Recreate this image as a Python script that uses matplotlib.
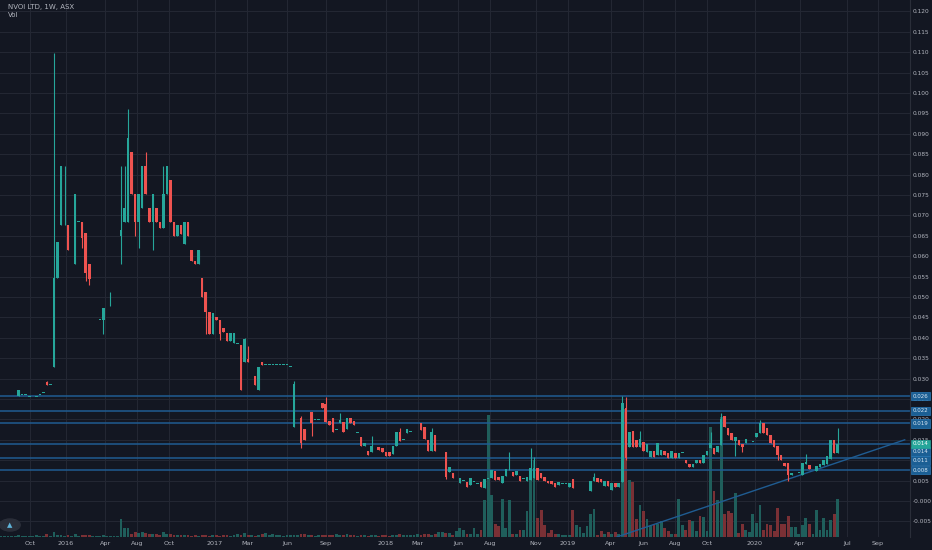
import matplotlib
matplotlib.use("Agg")
import matplotlib.pyplot as plt
import numpy as np

title = "NVOI LTD, 1W, ASX"
opens = [27.2,27.2,27.2,27.2,27.2,25.8,26.0,26.0,25.5,24.5,25.5,26.0,26.5,29.2,28.5,32.8,54.7,67.6,82.1,67.6,
 61.0,58.1,68.4,68.4,65.7,58.1,51.2,51.2,44.4,44.4,47.8,47.8,47.8,47.8,65.0,68.4,68.4,85.5,75.2,68.4,
 71.8,82.1,71.8,68.4,71.8,68.4,67.0,75.2,78.7,68.4,65.0,67.6,63.0,68.4,61.5,58.8,58.1,54.7,51.2,46.3,
 41.0,45.1,44.4,42.4,41.2,39.2,38.7,38.5,38.2,34.1,34.8,30.6,30.6,27.2,34.0,33.4,33.4,33.4,33.4,33.4,
 33.4,33.4,32.9,18.1,20.3,20.3,17.6,20.8,21.8,19.9,19.9,24.0,23.8,19.6,20.3,17.5,19.1,19.4,17.6,20.3,
 19.6,16.7,15.7,13.5,12.3,12.0,16.9,13.2,13.0,12.0,12.0,11.5,13.5,16.9,15.0,16.7,17.0,19.0,19.0,19.1,
 18.1,15.0,12.3,16.2,11.5,11.5,12.0,7.1,6.8,5.1,4.4,5.0,4.7,3.9,4.7,4.2,4.7,3.2,5.5,5.6,
 7.4,5.9,4.4,6.1,7.6,7.1,6.3,6.1,5.4,4.9,5.1,5.6,8.1,6.8,5.9,4.9,4.9,4.4,3.9,4.2,
 4.2,3.4,5.4,3.4,2.7,2.7,2.7,2.5,4.9,5.6,5.4,3.7,4.9,2.7,4.4,3.4,4.6,22.8,13.2,17.2,
 15.0,13.2,14.5,12.0,10.8,12.3,11.3,11.3,12.3,11.8,10.5,11.8,10.5,11.8,10.0,9.1,8.3,9.3,10.0,9.3,
 11.3,13.0,13.0,12.0,13.7,20.8,17.9,16.7,14.7,15.0,14.0,14.2,14.7,14.5,15.7,16.7,19.1,17.9,16.2,15.0,
 13.4,11.3,9.3,9.3,6.4,6.6,6.9,6.4,9.0,8.8,7.6,7.4,8.3,8.8,9.1,10.3,15.0,11.8]
closes = [27.2,27.2,27.2,27.2,27.2,27.2,26.0,26.0,25.5,24.5,25.5,26.0,26.5,28.5,28.5,54.7,63.5,82.1,82.1,61.5,
 61.0,75.2,68.4,64.5,55.9,54.4,51.2,51.2,44.4,47.3,47.8,47.8,47.8,47.8,66.4,71.8,89.0,75.2,68.4,75.2,
 82.1,75.2,68.4,75.2,68.4,67.0,75.2,82.1,68.4,65.0,67.6,65.5,68.4,65.0,58.8,58.1,61.5,50.0,46.3,41.0,
 46.0,44.4,41.0,41.5,39.2,41.2,41.2,38.5,27.2,39.7,34.0,30.6,28.4,32.8,33.4,33.4,33.4,33.4,33.4,33.4,
 33.4,33.4,32.9,28.7,20.3,14.2,15.0,20.8,19.1,19.9,19.9,22.8,19.4,18.6,16.9,17.5,19.9,16.9,20.3,19.1,
 18.6,16.7,13.5,14.2,11.3,13.5,16.9,12.5,12.0,11.0,11.0,13.5,16.9,14.7,15.0,17.6,17.0,19.0,19.0,17.4,
 15.2,12.3,16.9,12.3,11.5,11.5,5.9,8.3,5.6,5.1,5.6,5.0,3.4,5.6,4.7,4.2,3.4,5.4,5.5,7.6,
 5.1,5.1,6.1,7.8,7.6,6.1,7.3,4.9,5.4,5.9,8.1,8.1,5.1,5.6,4.9,4.4,4.2,3.4,4.7,4.2,
 4.2,4.4,3.2,3.4,2.7,2.7,2.7,4.9,5.9,4.7,4.7,4.9,3.7,4.4,3.4,4.4,24.0,10.5,16.9,13.2,
 13.2,15.2,12.3,14.0,12.3,10.8,14.2,12.5,11.3,10.5,12.3,10.5,11.8,11.8,9.3,8.3,9.1,10.0,9.3,11.3,
 12.3,14.2,11.5,13.5,20.1,18.1,16.2,14.9,15.7,13.7,13.2,15.2,14.7,14.5,16.7,19.1,16.7,16.2,14.2,13.2,
 11.3,10.0,8.6,6.4,6.9,6.6,6.9,9.3,9.6,7.8,7.6,8.6,9.1,10.0,11.0,15.0,11.8,14.0]
wick_high = {13:29.5,15:109.8,18:82.1,31:51.2,34:82.1,35:82.1,36:96.1,41:85.5,46:82.1,69:40.0,70:38.0,
 83:29.5,85:20.8,92:25.5,96:21.5,105:16.0,113:18.0,122:18.0,144:12.0,150:13.0,151:10.8,168:6.8,
 176:25.7,177:25.5,181:17.2,201:17.0,204:21.6,215:19.9,228:11.5,237:17.9}
wick_low = {18:67.6,23:62.0,24:54.0,25:53.0,29:40.9,34:58.1,38:65.0,39:62.0,43:61.5,58:41.0,62:39.5,
 85:13.0,88:16.0,126:5.5,177:10.0,208:11.0,210:12.0,220:10.0,223:4.9}
volume = [1,1,1,1,1,2,1,1,1,1,2,1,1,
 3,1,5,2,2,1,2,1,3,1,2,2,2,1,1,1,2,1,1,1,1,
 18,9,9,3,5,4,5,4,3,3,3,2,5,3,3,2,2,2,2,
 2,1,2,1,2,2,1,2,2,1,2,2,1,2,3,2,4,2,2,1,2,3,4,2,3,2,2,1,2,2,
 2,2,3,3,2,2,1,2,2,2,2,2,3,2,2,3,2,2,1,2,2,1,2,2,1,2,2,1,2,2,3,2,2,2,2,3,2,3,3,2,3,5,5,
 4,4,2,6,9,7,3,3,9,3,7,37,122,42,13,11,38,9,37,3,3,7,7,26,68,77,19,27,12,4,
 7,3,3,2,2,2,27,12,10,4,11,23,28,2,6,3,5,3,5,3,
 133,128,57,55,18,32,26,18,11,12,13,16,9,6,3,3,38,12,7,17,16,6,21,20,6,110,46,37,120,23,
 26,24,44,4,13,7,5,23,14,32,7,13,12,6,29,13,13,21,10,10,3,12,19,13,3,27,7,19,7,17,23,38]
level_lines = [0.0257, 0.0220, 0.0190, 0.0140, 0.0105, 0.0076]
level_tags = ["0.026", "0.022", "0.019", "0.014", "0.011", "0.008"]
tag_y = [0.0257, 0.0221, 0.0190, 0.0121, 0.0099, 0.0076]
last_tag = "0.014"
month_pos = [8.2,18.4,29.5,38.5,47.6,60.6,69.7,81,92,109,118,129.5,138.5,151.5,160.6,172.8,181.9,191,200,213.6,226.3,239.7,248.4]
month_lab = ["Oct","2016","Apr","Aug","Oct","2017","Mar","Jun","Sep","2018","Mar","Jun","Aug","Nov","2019","Apr","Jun","Aug","Oct","2020","Apr","Jul","Sep"]
price_ticks = [0.120 - 0.005*k for k in range(26)]
trend_x = [174.5, 256.0]
trend_y = [-0.0088, 0.0150]

BG = "#131722"; GRID = "#232733"; TXT = "#b2b5be"
UP = "#26a69a"; DN = "#ef5350"; LINE = "#1f5c92"

o = np.array(opens)/1000; c = np.array(closes)/1000
n = len(o); x = np.arange(n)
h = np.maximum(o, c); l = np.minimum(o, c)
for k, v in wick_high.items(): h[k] = v/1000
for k, v in wick_low.items(): l[k] = v/1000
up = c >= o
cols = np.where(up, UP, DN)

fig = plt.figure(figsize=(9.32, 5.5), dpi=100, facecolor=BG)
pos = [0, 13/550, 910/932, 537/550]
axv = fig.add_axes(pos, facecolor=BG)
ax = fig.add_axes(pos, facecolor="none")
xlim = (-0.28, 257.5)
for a in (ax, axv):
    a.set_xlim(*xlim)
    for s in a.spines.values(): s.set_visible(False)
axv.set_ylim(0, 537)
axv.set_yticks([]); axv.set_xticks([])
vcols = np.where(up, "#1f5e5b", "#7a3035")
axv.bar(x, volume, width=0.8, color=vcols, zorder=1)

ax.set_ylim(-0.00882, 0.1228)
ax.set_yticks(price_ticks)
ax.set_yticklabels(["-0.000" if abs(t) < 1e-9 else f"{t:.3f}" for t in price_ticks])
ax.yaxis.tick_right()
ax.tick_params(axis="y", colors=TXT, labelsize=4.2, length=0, pad=2)
ax.set_xticks(month_pos); ax.set_xticklabels(month_lab)
ax.tick_params(axis="x", colors=TXT, labelsize=4.6, length=0, pad=3)
for t in price_ticks:
    axv.axhline((t + 0.00882)/(0.1228+0.00882)*537, color=GRID, lw=0.8, zorder=0)
for p in month_pos:
    axv.axvline(p, color=GRID, lw=0.8, zorder=0)

ax.vlines(x, l, h, colors=cols, lw=0.8, zorder=3)
body = np.maximum(np.abs(c - o), 0.00012)
ax.bar(x, body, bottom=np.minimum(o, c), width=0.72, color=cols, zorder=4, linewidth=0)

for lv in level_lines:
    ax.axhline(lv, color=LINE, lw=1.1, zorder=2)
ax.plot(trend_x, trend_y, color=LINE, lw=1.0, zorder=2)

def tag(txt, yv, fc, ec, tc):
    ax.annotate(txt, xy=(1.0, yv), xycoords=("axes fraction", "data"), xytext=(2, 0),
                textcoords="offset points", va="center", ha="left", fontsize=4.0, color=tc, zorder=10,
                bbox=dict(boxstyle="square,pad=0.3", fc=fc, ec=ec, lw=0.5), annotation_clip=False)

for ty, tl in zip(tag_y, level_tags):
    tag(tl, ty, "#1b5f94", "#2a7ab8", "#d8e6f3")
tag(last_tag, level_lines[3], UP, UP, "white")

fig.text(8/932, 1-7/550, title, color=TXT, fontsize=5, va="center")
fig.text(8/932, 1-15/550, "Vol", color=TXT, fontsize=5, va="center")
fig.add_artist(plt.Circle((10/932, 1-525/550), 0.011, transform=fig.transFigure, color="#2a2e39"))
fig.text(10/932, 1-525/550, "▲", color="#5fb3d9", fontsize=5, ha="center", va="center")
fig.add_artist(plt.Line2D([910/932, 910/932], [13/550, 1], transform=fig.transFigure, color="#2a2e39", lw=0.8))

fig.savefig("out.png", dpi=100, facecolor=BG)
